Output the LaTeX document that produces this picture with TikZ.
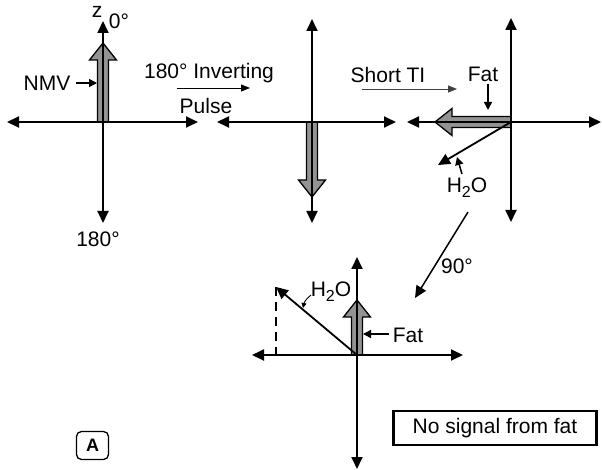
\documentclass[tikz,border=0pt]{standalone}
\usepackage{fontspec}
\setmainfont{Liberation Sans}
\usetikzlibrary{arrows.meta}

\newcommand\htwoo{H\raisebox{-5pt}{\fontsize{16}{16}\selectfont 2}O}

\begin{document}
\begin{tikzpicture}[x=1pt, y=-1pt, >={Triangle[length=12pt,width=11pt]},
  every node/.style={font=\fontsize{21}{23}\selectfont, inner sep=0pt},
  axis/.style={<->, line width=1.8pt},
  vec/.style={->, line width=1.8pt},
  pointer/.style={-{Triangle[length=8pt,width=8pt]}, line width=1.5pt},
  pulse/.style={-{Triangle[length=9pt,width=7pt]}, line width=0.9pt},
  pics/fatvec/.style={code={
    \draw[fill=gray!85, line width=1.3pt, line join=miter]
      (0,-5.5) -- (#1-17,-5.5) -- (#1-17,-13.5) -- (#1,0) -- (#1-17,13.5)
      -- (#1-17,5.5) -- (0,5.5) -- cycle;}}]
  \useasboundingbox (0,0) rectangle (602,470);

  % first diagram: NMV along z
  \coordinate (o1) at (103,122);
  \coordinate (l1) at (7,122);   \coordinate (r1) at (198,122);
  \coordinate (t1) at (103,21);  \coordinate (b1) at (103,223);
  \pic[rotate=90] at (o1) {fatvec=79};
  \draw[axis] (l1) -- (r1);
  \draw[axis] (t1) -- (b1);
  \node (z) at (97,12) {z};
  \node (deg0) at (119,21) {0°};
  \node (deg180) at (98,239) {180°};
  \node (nmv) at (47,83) {NMV};
  \coordinate (nmvtip) at (97,83);
  \draw[pointer] ([xshift=5pt]nmv.east) -- (nmvtip);

  % inverting pulse
  \node (inv) at (209,73) {180° Inverting};
  \node (pulse) at (206,106) {Pulse};
  \coordinate (p1a) at (177,88); \coordinate (p1b) at (250,88);
  \draw[pulse] (p1a) -- (p1b);

  % second diagram: inverted
  \coordinate (o2) at (312,122);
  \coordinate (l2) at (217,122); \coordinate (r2) at (396,122);
  \coordinate (t2) at (312,19);  \coordinate (b2) at (312,223);
  \pic[rotate=-90] at (o2) {fatvec=75};
  \draw[axis] (l2) -- (r2);
  \draw[axis] (t2) -- (b2);

  % short TI
  \node (sti) at (388,75) {Short TI};
  \coordinate (p2a) at (362,89); \coordinate (p2b) at (457,89);
  \draw[pulse, black!75] (p2a) -- (p2b);

  % third diagram: fat at null point
  \coordinate (o3) at (511,122);
  \coordinate (l3) at (407,122); \coordinate (r3) at (601,122);
  \coordinate (t3) at (511,18);  \coordinate (b3) at (511,222);
  \pic[rotate=180] at (o3) {fatvec=76};
  \draw[axis] (l3) -- (r3);
  \draw[axis] (t3) -- (b3);
  \coordinate (w3) at (438,165);
  \draw[vec] (o3) -- (w3);
  \node (fat3) at (483,74) {Fat};
  \coordinate (f3a) at (488,84); \coordinate (f3b) at (488,110);
  \draw[pointer] (f3a) -- (f3b);
  \node (h2o3) at (467,188) {\htwoo};
  \coordinate (h3a) at (462,174); \coordinate (h3b) at (457,157);
  \draw[pointer] (h3a) -- (h3b);

  % 90 degree pulse
  \coordinate (n1) at (468,212); \coordinate (n2) at (415,298);
  \draw[vec, line width=1.5pt] (n1) -- (n2);
  \node (deg90) at (457,266) {90°};

  % fourth diagram: after 90 pulse
  \coordinate (o4) at (357,355);
  \coordinate (l4) at (252,355); \coordinate (r4) at (463,355);
  \coordinate (t4) at (357,257); \coordinate (b4) at (357,469);
  \pic[rotate=90] at (o4) {fatvec=55};
  \draw[axis] (l4) -- (r4);
  \draw[axis] (t4) -- (b4);
  \coordinate (w4) at (276,287); \coordinate (d4) at (276,355);
  \draw[vec] (o4) -- (w4);
  \draw[line width=1.8pt, dash pattern=on 9pt off 6pt] (w4) -- (d4);
  \node (h2o4) at (331,292) {\htwoo};
  \coordinate (h4a) at (311,295); \coordinate (h4b) at (303,308);
  \draw[-{Triangle[length=5pt,width=5pt]}, line width=0.9pt] (h4a) to[bend right=20] (h4b);
  \node (fat4) at (408,335) {Fat};
  \coordinate (f4a) at (389,334); \coordinate (f4b) at (363,334);
  \draw[pointer] (f4a) -- (f4b);

  % labels
  \node[draw, line width=2.6pt, minimum width=203pt, minimum height=34pt] (note) at (495,428) {No signal from fat};
  \node[draw, rounded corners=5pt, line width=1.3pt, minimum width=32pt, minimum height=28pt,
        font=\fontsize{18}{20}\selectfont\bfseries] (lblA) at (92.5,445.5) {A};
\end{tikzpicture}
\end{document}
